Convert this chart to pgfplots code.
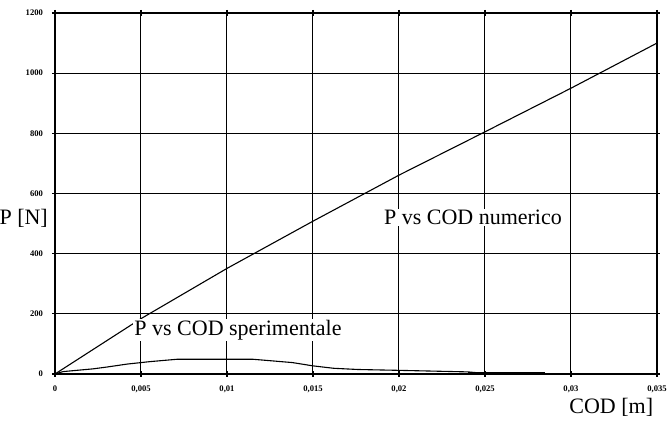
\documentclass[border=0pt]{standalone}
\usepackage{pgfplots}
\pgfplotsset{compat=1.18}
\usepackage{fontspec}
\setmainfont{Liberation Serif}
\begin{document}
\begin{tikzpicture}
\path[use as bounding box] (-27.5pt,-26.5pt) rectangle (307pt,187pt);
\begin{axis}[
  at={(0,0)}, anchor=south west,
  scale only axis, width=301pt, height=180.5pt,
  xmin=0, xmax=0.035, ymin=0, ymax=1200,
  xtick={0,0.005,0.01,0.015,0.02,0.025,0.03,0.035},
  xticklabels={0,{0,005},{0,01},{0,015},{0,02},{0,025},{0,03},{0,035}},
  ytick={0,200,400,600,800,1000,1200},
  yticklabels={0,200,400,600,800,1000,1200},
  scaled x ticks=false, scaled y ticks=false,
  grid=major, grid style={black, line width=0.5pt},
  axis line style={black, line width=0.8pt},
  tick style={black, line width=0.6pt},
  tick align=center, major tick length=3pt,
  ticklabel style={font=\fontsize{4.3}{4.3}\selectfont\bfseries},
  xticklabel style={yshift=-1pt},
  yticklabel style={xshift=-1pt},
  clip=false,
]
\addplot[black, line width=0.55pt] coordinates {
 (0,0) (0.005,184) (0.01,351) (0.015,508) (0.02,661) (0.025,805) (0.03,950) (0.035,1100)
};
\addplot[black, line width=0.55pt] coordinates {
 (0,0) (0.00047,8) (0.0022,17) (0.0030,23) (0.0042,33) (0.0055,41) (0.0071,49)
 (0.0115,49) (0.0138,38) (0.0150,27) (0.0162,19) (0.0176,15) (0.0201,12)
 (0.0240,7) (0.0250,2) (0.0285,1)
};
\addplot[black, line width=1.2pt] coordinates {(0.0240,2) (0.0285,2)};
\node[font=\fontsize{11}{12}\selectfont, fill=white, inner sep=0.5pt] at (axis cs:0.0243,520) {P vs COD numerico};
\node[font=\fontsize{11}{12}\selectfont, fill=white, inner sep=0.5pt] at (axis cs:0.01064,147) {P vs COD sperimentale};
\node[font=\fontsize{11}{12}\selectfont] at (rel axis cs:-0.052,0.432) {P [N]};
\node[font=\fontsize{11}{12}\selectfont] at (rel axis cs:0.924,-0.091) {COD [m]};
\end{axis}
\end{tikzpicture}
\end{document}
